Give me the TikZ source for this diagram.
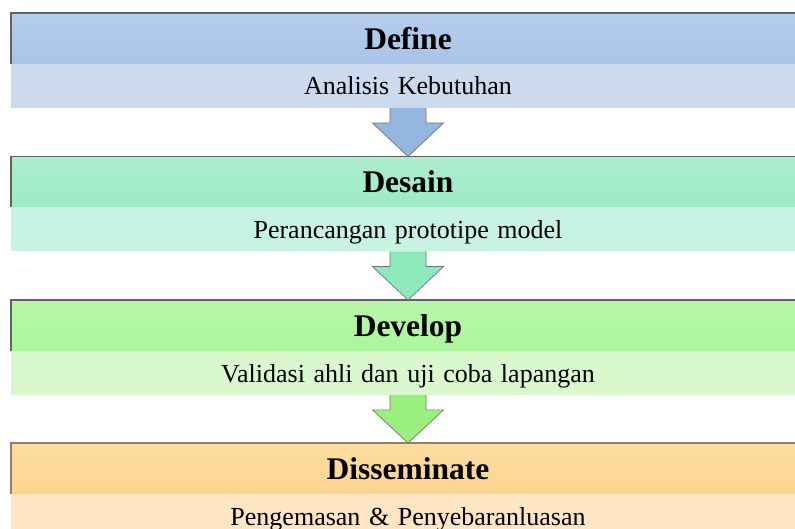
\documentclass[tikz,border=0pt]{standalone}
\usepackage{fontspec}
\setmainfont{Liberation Serif}
\usetikzlibrary{calc}

\definecolor{defhead}{HTML}{A9C4E8}
\definecolor{defsub}{HTML}{CCDAED}
\definecolor{deshead}{HTML}{9DEAC5}
\definecolor{dessub}{HTML}{C8F2E1}
\definecolor{devhead}{HTML}{ACF69A}
\definecolor{devsub}{HTML}{DAF8CD}
\definecolor{dishead}{HTML}{FCD68F}
\definecolor{dissub}{HTML}{FEE5C3}
\definecolor{defarrow}{HTML}{95B6E1}
\definecolor{desarrow}{HTML}{8DE9BA}
\definecolor{devarrow}{HTML}{9AF07E}

\newcommand{\subtextfont}{\fontsize{26}{30}\selectfont\spaceskip=0.33em plus 0pt\relax}

% block arrow from the bottom of one stage to the top of the next
\newcommand{\stagearrow}[3]{%
  \path (#1.south) coordinate (top) (#2.north) coordinate (tip);
  \fill[#3] ([xshift=-18pt]top) -- ([xshift=-18pt]$(top)!.31!(tip)$)
    -- ([xshift=-35.5pt]$(top)!.31!(tip)$) -- (tip)
    -- ([xshift=35.5pt]$(top)!.31!(tip)$) -- ([xshift=18pt]$(top)!.31!(tip)$)
    -- ([xshift=18pt]top) -- cycle;
  \draw[arrowline] ([xshift=-18pt]top) -- ([xshift=-18pt]$(top)!.31!(tip)$)
    -- ([xshift=-35.5pt]$(top)!.31!(tip)$) -- (tip)
    -- ([xshift=35.5pt]$(top)!.31!(tip)$) -- ([xshift=18pt]$(top)!.31!(tip)$)
    -- ([xshift=18pt]top);
}

\begin{document}
\begin{tikzpicture}[x=1pt,y=-1pt,
  head/.style={rectangle,inner sep=0pt,outer sep=0pt,minimum width=794pt,
    minimum height=51pt,text height=22pt,text depth=0pt,
    font=\fontsize{31.5}{34}\selectfont\bfseries},
  sub/.style={rectangle,inner sep=0pt,outer sep=0pt,minimum width=794pt,
    minimum height=44pt,text height=18pt,text depth=0pt,font=\subtextfont},
  edge/.style={draw=black!62,line width=1.2pt},
  arrowline/.style={draw=black!55,line width=0.7pt,line join=miter}]
\useasboundingbox (0,0) rectangle (795,529);
\clip (0,0) rectangle (795,529);

\node[head,anchor=north west,top color=defhead!85!white,bottom color=defhead] (define) at (11,13) {Define};
\node[sub,anchor=north,fill=defsub] (define-sub) at (define.south) {Analisis Kebutuhan};
\draw[edge] (define.south west) -- (define.north west) -- (define.north east);

\node[head,anchor=north west,top color=deshead!85!white,bottom color=deshead] (desain) at (11,156.5) {Desain};
\node[sub,anchor=north,fill=dessub] (desain-sub) at (desain.south) {Perancangan prototipe model};
\draw[edge] (desain.south west) -- (desain.north west) -- (desain.north east);

\node[head,anchor=north west,top color=devhead!85!white,bottom color=devhead] (develop) at (11,300) {Develop};
\node[sub,anchor=north,fill=devsub] (develop-sub) at (develop.south) {Validasi ahli dan uji coba lapangan};
\draw[edge] (develop.south west) -- (develop.north west) -- (develop.north east);

\node[head,anchor=north west,top color=dishead!85!white,bottom color=dishead] (disseminate) at (11,443) {Disseminate};
\node[sub,anchor=north,fill=dissub] (disseminate-sub) at (disseminate.south) {Pengemasan \& Penyebaranluasan};
\draw[edge,draw=black!45!brown!70] (disseminate.south west) -- (disseminate.north west) -- (disseminate.north east);

\stagearrow{define-sub}{desain}{defarrow}
\stagearrow{desain-sub}{develop}{desarrow}
\stagearrow{develop-sub}{disseminate}{devarrow}
\end{tikzpicture}
\end{document}
